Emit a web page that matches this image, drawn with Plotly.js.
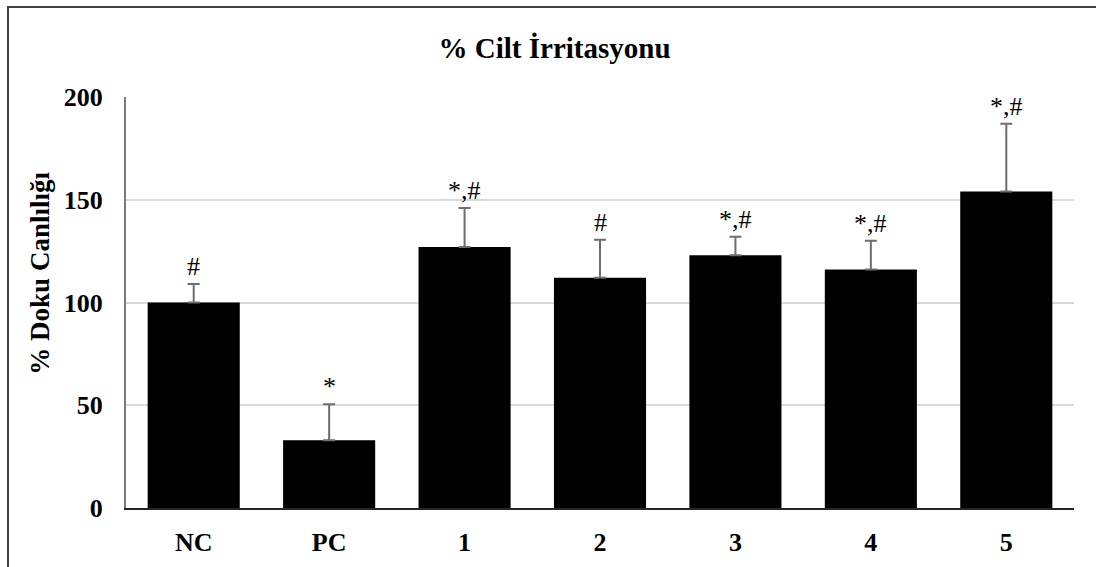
<!DOCTYPE html>
<html>
<head>
<meta charset="utf-8">
<script src="https://cdn.plot.ly/plotly-3.0.1.min.js"></script>
<style>
  html, body { margin: 0; padding: 0; background: #fff; }
  #frame { position: absolute; left: 0; top: 0; width: 1096px; height: 567px; }
  #edge { position: absolute; left: 7px; top: 6px; width: 1089px; height: 561px;
          border-left: 2px solid #404040; border-top: 2px solid #404040; pointer-events: none; }
</style>
</head>
<body>
<div id="frame"></div>
<div id="edge"></div>
<script>
// Group labels, mean tissue viability and upper SD
const groups = ['NC', 'PC', '1', '2', '3', '4', '5'];
const viability = [100, 33, 127, 112, 123, 116, 154];
const sdUpper = [9, 17.5, 19, 18.5, 9, 14, 33];
// Significance marks shown above each error bar
const marks = ['#', '*', '*,#', '#', '*,#', '*,#', '*,#'];

const serif = 'Liberation Serif, Times New Roman, serif';

const trace = {
  type: 'bar',
  x: groups,
  y: viability,
  marker: { color: '#000000', line: { width: 0 } },
  error_y: {
    type: 'data',
    array: sdUpper,
    arrayminus: groups.map(() => 0),
    symmetric: false,
    color: '#6e6e6e',
    thickness: 2,
    width: 6
  },
  hoverinfo: 'x+y'
};

// category positions are given by index so numeric group names are not misread
const annotations = groups.map((g, i) => ({
  x: i,
  y: viability[i] + sdUpper[i],
  xref: 'x', yref: 'y',
  text: marks[i],
  showarrow: false,
  yanchor: 'bottom',
  yshift: 1,
  font: { family: serif, size: 26, color: '#000' }
}));

// vertical axis caption, placed slightly above the plot's mid-height
annotations.push({
  xref: 'paper', yref: 'paper',
  x: -0.091, y: 0.572,
  xanchor: 'center', yanchor: 'middle',
  textangle: -90,
  text: '<b>% Doku Canlılığı</b>',
  showarrow: false,
  font: { family: serif, size: 27, color: '#000' }
});

const layout = {
  width: 1096,
  height: 567,
  paper_bgcolor: 'rgba(0,0,0,0)',
  plot_bgcolor: '#fff',
  margin: { l: 126, r: 22, t: 97, b: 59 },
  bargap: 0.32,
  showlegend: false,
  title: {
    text: '<b>% Cilt İrritasyonu</b>',
    xref: 'container', x: 0.506, xanchor: 'center',
    yref: 'container', y: 0.915, yanchor: 'middle',
    font: { family: serif, size: 29, color: '#000' }
  },
  xaxis: {
    type: 'category',
    showgrid: false,
    showline: true,
    linecolor: '#262626',
    linewidth: 2,
    ticks: '',
    ticklabelstandoff: 10,
    tickfont: { family: serif, size: 26, color: '#000', weight: 'bold' }
  },
  yaxis: {
    range: [0, 200],
    tickvals: [0, 50, 100, 150, 200],
    showgrid: true,
    gridcolor: '#d9d9d9',
    gridwidth: 2,
    zeroline: false,
    showline: true,
    linecolor: '#7a7a7a',
    linewidth: 2,
    ticks: '',
    ticklabelstandoff: 16,
    tickfont: { family: serif, size: 26, color: '#000', weight: 'bold' }
  },
  annotations: annotations
};

Plotly.newPlot('frame', [trace], layout, { displayModeBar: false, staticPlot: true });
</script>
</body>
</html>
